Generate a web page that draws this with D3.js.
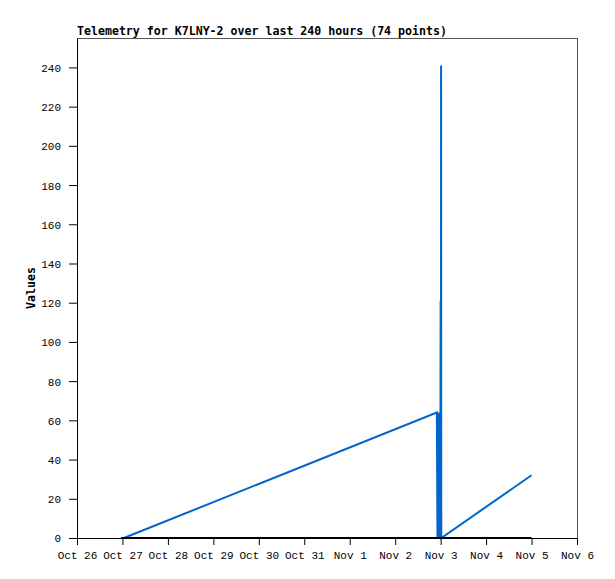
<!DOCTYPE html>
<html><head><meta charset="utf-8">
<script src="https://cdn.jsdelivr.net/npm/d3@7"></script>
<style>
body{margin:0;background:#fff;}
svg{display:block;}
text{font-family:"DejaVu Sans Mono","Liberation Mono",monospace;}
.tick text{font-family:"Liberation Mono","DejaVu Sans Mono",monospace;}
</style></head>
<body>
<svg id="chart" width="615" height="579"></svg>
<script>
const title = "Telemetry for K7LNY-2 over last 240 hours (74 points)";
const yLabel = "Values";
const xTickDates = ["2023-10-26","2023-10-27","2023-10-28","2023-10-29","2023-10-30","2023-10-31","2023-11-01","2023-11-02","2023-11-03","2023-11-04","2023-11-05","2023-11-06"];
const yTicks = [0,20,40,60,80,100,120,140,160,180,200,220,240];
const yMax = 255;

// Blue series (time, value)
const blueTimes = ["2023-10-27T00:45","2023-11-02T22:00","2023-11-02T22:20","2023-11-02T22:40","2023-11-02T23:00","2023-11-02T23:15","2023-11-02T23:30","2023-11-02T23:40","2023-11-02T23:50","2023-11-03T00:00","2023-11-03T00:08","2023-11-03T00:14","2023-11-03T00:20","2023-11-05T00:00"];
const blueValues = [0,64,0,64,0,63,0,64,0,121,0,241,0,32];

// Black series
const blackTimes = ["2023-10-26T23:15","2023-10-29T00:00","2023-11-01T00:00","2023-11-03T00:00","2023-11-05T00:00"];
const blackValues = [0,0,0,0,0];

const svg = d3.select("#chart");
const m = {left:77, top:38, right:577, bottom:538};
const parse = d3.utcParse("%Y-%m-%dT%H:%M");
const parseD = d3.utcParse("%Y-%m-%d");
const ticks = xTickDates.map(parseD);

const x = d3.scaleUtc().domain([ticks[0], ticks[ticks.length-1]]).range([m.left, m.right]);
const y = d3.scaleLinear().domain([0, yMax]).range([m.bottom, m.top]);

// frame
svg.append("line").attr("x1",m.left).attr("x2",m.right).attr("y1",m.top+0.5).attr("y2",m.top+0.5).attr("stroke","#555");
svg.append("line").attr("x1",m.right+0.5).attr("x2",m.right+0.5).attr("y1",m.top).attr("y2",m.bottom).attr("stroke","#555");

const line = d3.line().x(d=>x(d[0])).y(d=>y(d[1]));
const blue = blueTimes.map((t,i)=>[parse(t), blueValues[i]]);
const black = blackTimes.map((t,i)=>[parse(t), blackValues[i]]);

svg.append("path").datum(blue).attr("d",line).attr("fill","none").attr("stroke","#0066cc").attr("stroke-width",2);

// axes
const xAxis = d3.axisBottom(x).tickValues(ticks).tickFormat(d3.utcFormat("%b %-d")).tickSize(7).tickSizeOuter(0);
const gx = svg.append("g").attr("transform",`translate(0,${m.bottom})`).call(xAxis);
gx.select(".domain").attr("stroke","#000");
gx.selectAll("text").attr("font-size","11px").attr("fill","#000").attr("dy",null).attr("y",21);

const yAxis = d3.axisLeft(y).tickValues(yTicks).tickSize(8).tickSizeOuter(0);
const gy = svg.append("g").attr("transform",`translate(${m.left},0)`).call(yAxis);
gy.select(".domain").attr("stroke","#000");
gy.selectAll("text").attr("font-size","11px").attr("fill","#000").attr("x",-16).attr("dy","0.36em");

svg.append("path").datum(black).attr("d",line).attr("fill","none").attr("stroke","#000").attr("stroke-width",2);

svg.append("text").attr("x",m.left).attr("y",35).attr("font-size","11.6px").attr("font-weight","bold").text(title);
svg.append("text").attr("transform",`translate(35,${(m.top+m.bottom)/2}) rotate(-90)`).attr("text-anchor","middle").attr("font-size","11.6px").attr("font-weight","bold").text(yLabel);
</script>
</body></html>
